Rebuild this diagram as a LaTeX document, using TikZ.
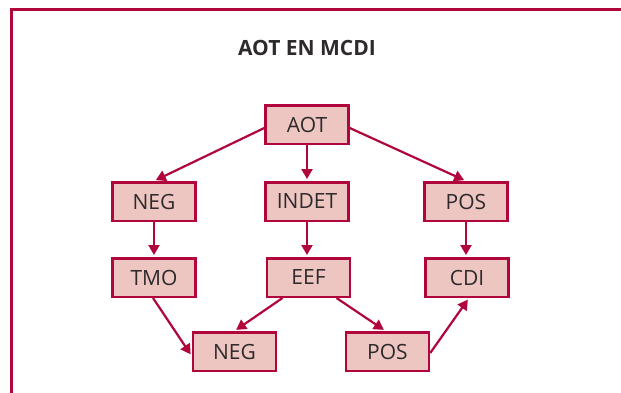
\documentclass[tikz,border=0pt]{standalone}
\usepackage{fontspec}
\setmainfont{Open Sans}
\usetikzlibrary{arrows.meta}
\definecolor{aotred}{HTML}{B0063C}
\definecolor{aotfill}{HTML}{EDC6C1}
\definecolor{aottext}{HTML}{2E2A2B}
\tikzset{
  box/.style={draw=aotred, fill=aotfill, line width=2.5pt, minimum width=83pt,
    minimum height=38.5pt, inner sep=0pt, text=aottext, font=\fontsize{21}{24}\selectfont},
  link/.style={draw=aotred, line width=2.2pt, -{Triangle[length=10pt,width=11pt]}, shorten >=2pt}
}
\begin{document}
\begin{tikzpicture}[x=1pt,y=-1pt]
      \useasboundingbox (0,0) rectangle (621,393);
      % frame
      \draw[aotred, line width=2.8pt] (621,9.5) -- (11.5,9.5) -- (11.5,393);
      \node (title) at (307,48) {\fontsize{21}{24}\selectfont\bfseries\color{aottext}AOT EN MCDI};
      \draw
        (307,125) node[box] (aot){AOT}
        (154,201.5) node[box] (neg){NEG}
        (307,201.5) node[box] (indet){INDET}
        (466,201.5) node[box] (pos){POS}
        (154,277.5) node[box] (tmo){TMO}
        (308.5,277.5) node[box] (eef){EEF}
        (467,277.5) node[box] (cdi){CDI}
        (234.5,351.5) node[box] (negb){NEG}
        (387.5,351.5) node[box] (posb){POS};
      \begin{scope}[link]
        \draw ([yshift=-3pt]aot.west) to (neg.north);
        \draw (aot.south) to (indet.north);
        \draw ([yshift=-3pt]aot.east) to (pos.north);
        \draw (neg.south) to (tmo.north);
        \draw (indet.south) to (indet.south |- eef.north);
        \draw (pos.south) to (pos.south |- cdi.north);
        \draw ([xshift=-1pt]tmo.south) to ([yshift=-4.5pt]negb.west);
        \draw ([xshift=-26pt]eef.south) to (negb.north);
        \draw ([xshift=28pt]eef.south) to ([xshift=-2pt]posb.north);
        \draw ([yshift=-1.5pt]posb.east) to ([xshift=2pt]cdi.south);
      \end{scope}
    \end{tikzpicture}
\end{document}
